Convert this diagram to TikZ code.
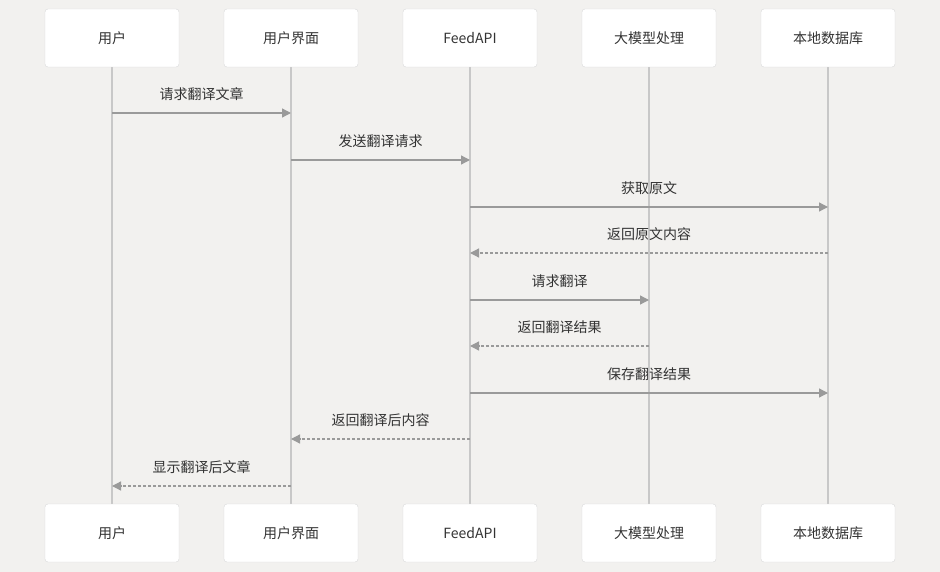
\documentclass[tikz,border=0pt]{standalone}
\usepackage{fontspec}
\newfontfamily\cjk{Noto Sans CJK SC}
\usetikzlibrary{arrows.meta,backgrounds,positioning}
\definecolor{bgcol}{HTML}{F2F1EF}
\definecolor{boxline}{HTML}{D9D9D9}
\definecolor{lifecol}{HTML}{C8C8C8}
\definecolor{arrowcol}{HTML}{9A9A9A}
\definecolor{txtcol}{HTML}{333333}

\begin{document}
\begin{tikzpicture}
  [
  x=1pt, y=-1pt,
  actor/.style={draw=boxline, fill=white, rounded corners=3pt, minimum width=134pt, minimum height=58pt, inner sep=0pt, outer sep=0pt, font=\cjk\fontsize{14}{16}\selectfont, text=txtcol},
  life/.style={draw=lifecol, line width=1.3pt},
  call/.style={draw=arrowcol, line width=1.3pt, -{Triangle[length=9pt,width=9pt]}},
  reply/.style={call, dash pattern=on 3pt off 2pt},
  msg/.style={midway, yshift=19pt, font=\cjk\fontsize{14}{16}\selectfont, text=txtcol},
  node distance=45pt
  ]
  % participants, top and bottom
  \node[actor] (user) at (112,38) {用户};
  \node[actor, right=of user] (ui) {用户界面};
  \node[actor, right=of ui] (api) {FeedAPI};
  \node[actor, right=of api] (llm) {大模型处理};
  \node[actor, right=of llm] (db) {本地数据库};

  \node[actor] (userB) at (112,533) {用户};
  \node[actor, right=of userB] (uiB) {用户界面};
  \node[actor, right=of uiB] (apiB) {FeedAPI};
  \node[actor, right=of apiB] (llmB) {大模型处理};
  \node[actor, right=of llmB] (dbB) {本地数据库};

  \begin{scope}[on background layer]
    \fill[bgcol] (0,0) rectangle (940,572);
    \draw[life] (user.south) -- (userB.north);
    \draw[life] (ui.south) -- (uiB.north);
    \draw[life] (api.south) -- (apiB.north);
    \draw[life] (llm.south) -- (llmB.north);
    \draw[life] (db.south) -- (dbB.north);
  \end{scope}

  % message rows
  \coordinate (r1) at (0,113);
  \coordinate (r2) at (0,160);
  \coordinate (r3) at (0,207);
  \coordinate (r4) at (0,253);
  \coordinate (r5) at (0,300);
  \coordinate (r6) at (0,346);
  \coordinate (r7) at (0,393);
  \coordinate (r8) at (0,439);
  \coordinate (r9) at (0,486);

  \draw[call] (user |- r1) -- node[msg] {请求翻译文章} (ui |- r1);
  \draw[call] (ui |- r2) -- node[msg] {发送翻译请求} (api |- r2);
  \draw[call] (api |- r3) -- node[msg] {获取原文} (db |- r3);
  \draw[reply] (db |- r4) -- node[msg] {返回原文内容} (api |- r4);
  \draw[call] (api |- r5) -- node[msg] {请求翻译} (llm |- r5);
  \draw[reply] (llm |- r6) -- node[msg] {返回翻译结果} (api |- r6);
  \draw[call] (api |- r7) -- node[msg] {保存翻译结果} (db |- r7);
  \draw[reply] (api |- r8) -- node[msg] {返回翻译后内容} (ui |- r8);
  \draw[reply] (ui |- r9) -- node[msg] {显示翻译后文章} (user |- r9);
\end{tikzpicture}
\end{document}
